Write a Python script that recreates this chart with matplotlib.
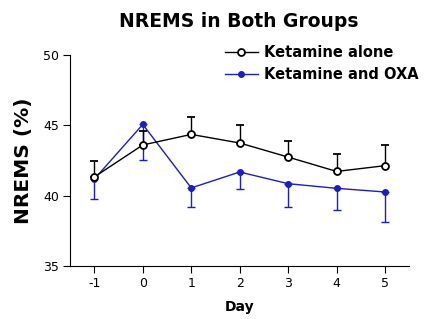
import matplotlib
matplotlib.use('Agg')
import matplotlib.pyplot as plt

plt.rcParams['font.family'] = ['DejaVu Sans']
plt.rcParams['axes.unicode_minus'] = False

days = [-1, 0, 1, 2, 3, 4, 5]

# Ketamine alone: mean and upper error
ket_mean = [41.33, 43.6, 44.35, 43.74, 42.74, 41.72, 42.13]
ket_err = [1.13, 0.96, 1.27, 1.30, 1.11, 1.24, 1.47]

# Ketamine and OXA: mean and lower error
oxa_mean = [41.18, 45.06, 40.55, 41.68, 40.85, 40.52, 40.26]
oxa_err = [1.39, 2.51, 1.38, 1.23, 1.68, 1.53, 2.15]

fig = plt.figure(figsize=(4.25, 3.19), dpi=100)
ax = fig.add_axes([0.165, 0.166, 0.798, 0.662])

blue = '#1c1cc8'
# black series, error bars up only
ax.errorbar(days, ket_mean, yerr=[[0]*len(ket_err), ket_err], color='black',
            lw=1.0, elinewidth=1.0, capsize=3, capthick=1.0,
            marker='o', ms=5, mfc='white', mec='black', mew=1.3,
            label='Ketamine alone', zorder=3)
# blue series, error bars down only
ax.errorbar(days, oxa_mean, yerr=[oxa_err, [0]*len(oxa_err)], color=blue,
            lw=1.0, elinewidth=1.0, capsize=3, capthick=1.0,
            marker='o', ms=4, mfc=blue, mec=blue,
            label='Ketamine and OXA', zorder=2)

ax.set_xlim(-1.5, 5.5)
ax.set_ylim(35, 50)
ax.set_xticks(days)
ax.set_yticks([35, 40, 45, 50])
ax.spines['top'].set_visible(False)
ax.spines['right'].set_visible(False)
ax.tick_params(direction='out', length=5, labelsize=9, pad=3)
ax.set_xlabel('Day', fontsize=10, fontweight='bold', labelpad=7)
ax.set_ylabel('NREMS (%)', fontsize=14.5, fontweight='bold', labelpad=7)
fig.text(0.562, 0.932, 'NREMS in Both Groups', ha='center', va='center',
         fontsize=13.5, fontweight='bold')

handles, labels = ax.get_legend_handles_labels()
handles = [h[0] for h in handles]
leg = fig.legend(handles, labels, loc='upper left', bbox_to_anchor=(0.515, 0.877),
                 frameon=False, prop={'weight': 'bold', 'size': 10.5},
                 handlelength=2.3, handletextpad=0.4, labelspacing=0.5,
                 borderaxespad=0)

fig.savefig('out.png', dpi=100)
